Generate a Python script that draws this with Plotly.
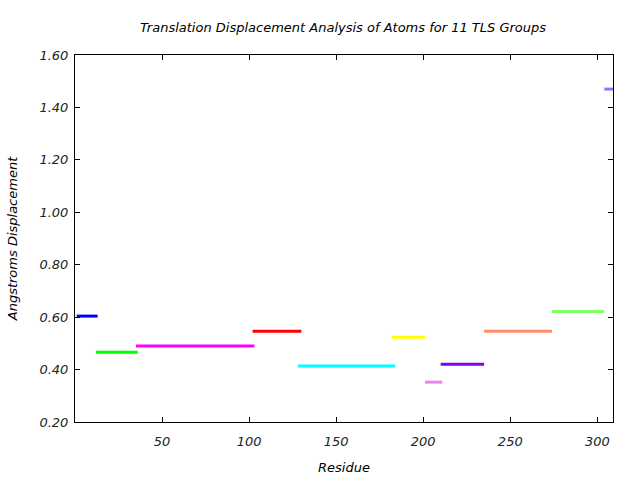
import plotly.graph_objects as go

group_start = [1, 12, 35, 102, 128, 182, 201, 210, 235, 274, 304]
group_end = [13, 36, 103, 130, 184, 201, 211, 235, 274, 304, 309]
displacement = [0.604, 0.466, 0.490, 0.546, 0.414, 0.523, 0.352, 0.420, 0.546, 0.622, 1.470]
colors = ["#0000ff", "#00ff00", "#ff00ff", "#ff0000", "#00ffff", "#ffff00",
          "#ee82ee", "#7f00ff", "#ff8c69", "#80ff66", "#8080ff"]

x_ticks = [50, 100, 150, 200, 250, 300]
y_ticks = [0.2, 0.4, 0.6, 0.8, 1.0, 1.2, 1.4, 1.6]

font_family = "DejaVu Sans"

fig = go.Figure()
for xs, xe, y, c in zip(group_start, group_end, displacement, colors):
    fig.add_trace(go.Scatter(x=[xs, xe], y=[y, y], mode="lines",
                             line=dict(color=c, width=3), showlegend=False,
                             hoverinfo="skip"))

axis_common = dict(showline=True, linecolor="black", linewidth=1, mirror="ticks",
                   ticks="inside", ticklen=5, tickcolor="black", showgrid=False,
                   zeroline=False, automargin=False,
                   tickfont=dict(family=font_family, size=13, color="#222222", style="italic"))

fig.update_layout(
    width=640, height=480,
    margin=dict(l=75, r=27, t=55, b=58),
    paper_bgcolor="white", plot_bgcolor="white",
    title=dict(text="Translation Displacement Analysis of Atoms for 11 TLS Groups",
               x=343 / 640, xanchor="center", y=1 - 27 / 480, yanchor="middle",
               font=dict(family=font_family, size=13, color="black", style="italic")),
    xaxis=dict(range=[0, 309], tickvals=x_ticks, ticktext=[str(v) for v in x_ticks],
               ticklabelstandoff=7,
               title=dict(text="Residue", standoff=15,
                          font=dict(family=font_family, size=13, color="black", style="italic")),
               **axis_common),
    yaxis=dict(range=[0.2, 1.6], tickvals=y_ticks, tickformat=".2f",
               ticklabelstandoff=3,
               title=dict(text="Angstroms Displacement", standoff=18,
                          font=dict(family=font_family, size=13, color="black", style="italic")),
               **axis_common),
)

fig.write_html("out.html")
